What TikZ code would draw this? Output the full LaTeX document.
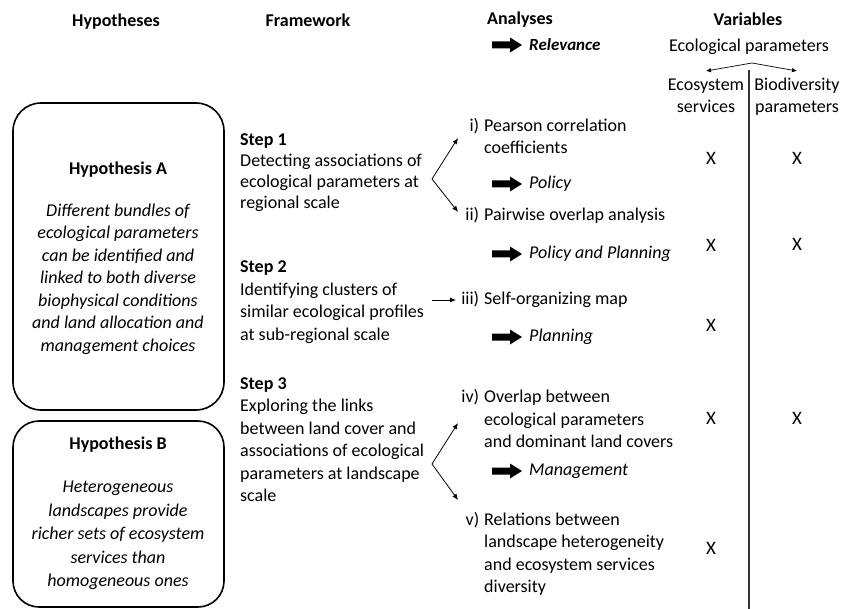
\documentclass[tikz,border=0pt]{standalone}
\usepackage{fontspec}
\setmainfont{Carlito}
\usetikzlibrary{arrows.meta}
\newcommand{\itemlbl}[1]{\makebox[24pt][r]{#1}}
\begin{document}
\begin{tikzpicture}[x=1pt,y=-1pt,
  every node/.style={inner sep=0pt, font=\fontsize{18}{22}\selectfont},
  hdr/.style={font=\fontsize{18}{22}\selectfont\bfseries},
  hypbox/.style={draw, line width=1.6pt, rounded corners=28pt},
  arr/.style={-{Latex[length=6pt,width=5pt]}, line width=0.8pt},
  xmark/.style={font=\fontsize{19}{22}\selectfont},
  lab/.style={anchor=west, font=\fontsize{18}{22}\selectfont\itshape},
  fatarrow/.pic={\fill (0,-3.5) -- (18,-3.5) -- (18,-7.5) -- (30,0) -- (18,7.5) -- (18,3.5) -- (0,3.5) -- cycle;}
]
\useasboundingbox (0,0) rectangle (842,609);

% headers
\node[hdr] (hH) at (116,22) {Hypotheses};
\node[hdr] (hF) at (308,20) {Framework};
\node[hdr] (hA) at (520,20) {Analyses};
\node[hdr] (hV) at (748,19) {Variables};
\pic at (492,45) {fatarrow};
\node[anchor=west, font=\fontsize{17}{22}\selectfont\bfseries\itshape] (rel) at (529,45) {Relevance};

% variables header
\node (ecop) at (749,47) {Ecological parameters};
\coordinate (apex) at (752,63);
\coordinate (esT) at (706,71);
\coordinate (bdT) at (797,71);
\draw[-{Latex[length=5pt,width=4.5pt]}, line width=0.7pt] (apex) -- (esT);
\draw[-{Latex[length=5pt,width=4.5pt]}, line width=0.7pt] (apex) -- (bdT);
\node (es) at (706,97) {\begin{tabular}{@{}c@{}}Ecosystem\\services\end{tabular}};
\node (bd) at (797,97) {\begin{tabular}{@{}c@{}}Biodiversity\\parameters\end{tabular}};
\coordinate (vtop) at (749,70);
\coordinate (vbot) at (749,609);
\draw[line width=1.1pt, black!80] (vtop) -- (vbot);

% hypotheses
\node[hypbox, minimum width=211pt, minimum height=307pt] (boxA) at (118.5,256.5) {};
\node[hdr] (hypA) at (118,170) {Hypothesis A};
\node[font=\fontsize{18}{22.5}\selectfont\itshape] (txtA) at (118,279.5) {\begin{tabular}{@{}c@{}}Different bundles of\\ecological parameters\\can be identified and\\linked to both diverse\\biophysical conditions\\and land allocation and\\management choices\end{tabular}};
\node[hypbox, rounded corners=26pt, minimum width=211pt, minimum height=186pt] (boxB) at (118.5,514) {};
\node[hdr] (hypB) at (118,445) {Hypothesis B};
\node[font=\fontsize{18}{23.5}\selectfont\itshape] (txtB) at (118,535) {\begin{tabular}{@{}c@{}}Heterogeneous\\landscapes provide\\richer sets of ecosystem\\services than\\homogeneous ones\end{tabular}};

% framework
\node[anchor=west, font=\fontsize{18}{21}\selectfont] (s1) at (240,172.5) {\begin{tabular}{@{}l@{}}\textbf{Step 1}\\Detecting associations of\\ecological parameters at\\regional scale\end{tabular}};
\node[anchor=west, font=\fontsize{18}{22.5}\selectfont] (s2) at (240,302) {\begin{tabular}{@{}l@{}}\textbf{Step 2}\\Identifying clusters of\\similar ecological profiles\\at sub-regional scale\end{tabular}};
\node[anchor=west, font=\fontsize{18}{22.5}\selectfont] (s3) at (240,441) {\begin{tabular}{@{}l@{}}\textbf{Step 3}\\Exploring the links\\between land cover and\\associations of ecological\\parameters at landscape\\scale\end{tabular}};

% analyses
\node[anchor=west] (a1) at (455,138) {\begin{tabular}{@{}l@{\hspace{5pt}}l@{}}\itemlbl{i)} & Pearson correlation\\ & coefficients\end{tabular}};
\node[anchor=west] (a2) at (455,216) {\begin{tabular}{@{}l@{\hspace{5pt}}l@{}}\itemlbl{ii)} & Pairwise overlap analysis\end{tabular}};
\node[anchor=west] (a3) at (455,300) {\begin{tabular}{@{}l@{\hspace{5pt}}l@{}}\itemlbl{iii)} & Self-organizing map\end{tabular}};
\node[anchor=west, font=\fontsize{18}{22.5}\selectfont] (a4) at (455,420.5) {\begin{tabular}{@{}l@{\hspace{5pt}}l@{}}\itemlbl{iv)} & Overlap between\\ & ecological parameters\\ & and dominant land covers\end{tabular}};
\node[anchor=west, font=\fontsize{18}{22.3}\selectfont] (a5) at (455,554.5) {\begin{tabular}{@{}l@{\hspace{5pt}}l@{}}\itemlbl{v)} & Relations between\\ & landscape heterogeneity\\ & and ecosystem services\\ & diversity\end{tabular}};

\pic at (492,184) {fatarrow};
\node[lab] (p1) at (529,184) {Policy};
\pic at (492,254) {fatarrow};
\node[lab] (p2) at (529,254) {Policy and Planning};
\pic at (492,337) {fatarrow};
\node[lab] (p3) at (529,337) {Planning};
\pic at (492,471) {fatarrow};
\node[lab] (p4) at (529,471) {Management};

% connectors
\coordinate (f1) at (432,179);
\coordinate (f1a) at (458,138);
\coordinate (f1b) at (458,212);
\draw[arr] (f1) -- (f1a);
\draw[arr] (f1) -- (f1b);
\coordinate (f2a) at (432,300);
\coordinate (f2b) at (456,300);
\draw[arr] (f2a) -- (f2b);
\coordinate (f3) at (432,464);
\coordinate (f3a) at (458,423);
\coordinate (f3b) at (458,500);
\draw[arr] (f3) -- (f3a);
\draw[arr] (f3) -- (f3b);

% X marks
\node[xmark] (x11) at (711,158) {X};
\node[xmark] (x12) at (797,158) {X};
\node[xmark] (x21) at (711,245) {X};
\node[xmark] (x22) at (797,244) {X};
\node[xmark] (x31) at (711,325) {X};
\node[xmark] (x41) at (711,418) {X};
\node[xmark] (x42) at (797,418) {X};
\node[xmark] (x51) at (711,548) {X};
\end{tikzpicture}
\end{document}
